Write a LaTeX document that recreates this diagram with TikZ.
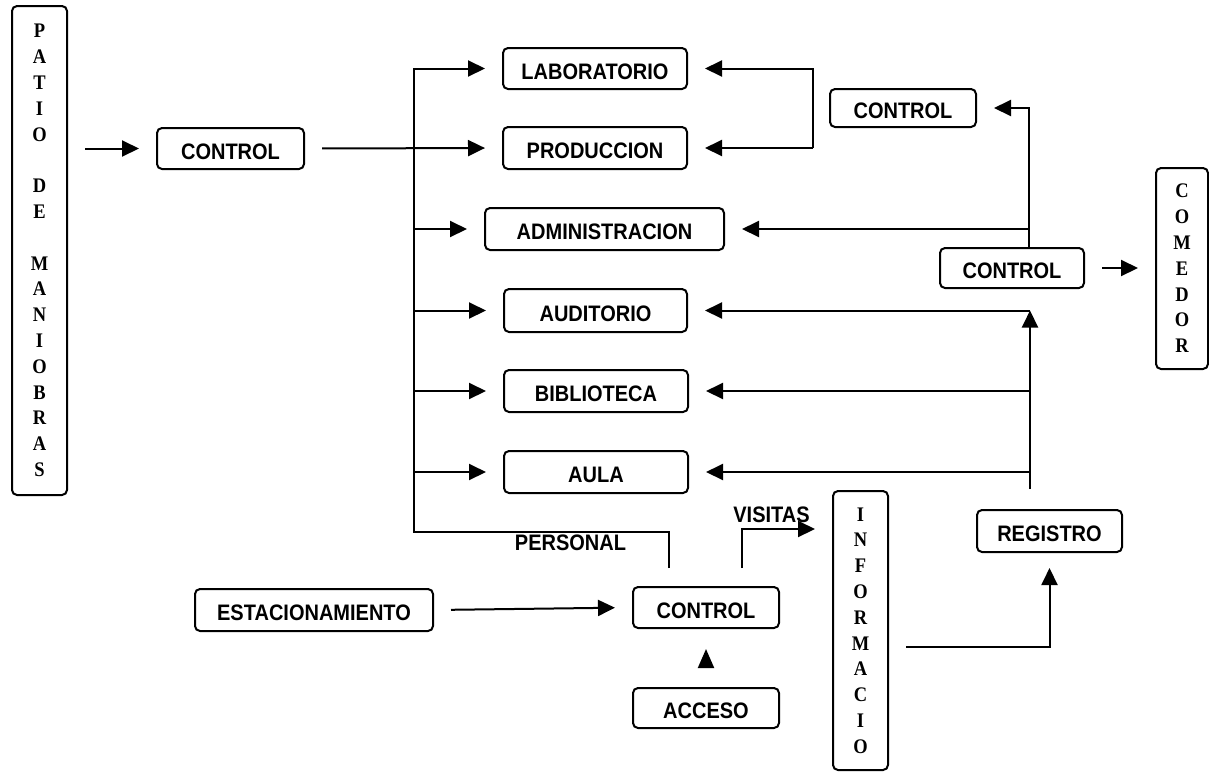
\documentclass[tikz,border=0pt]{standalone}
\usepackage{fontspec}
\usepackage{graphicx}
\setmainfont{Liberation Serif}
\setsansfont{Liberation Sans}
\usetikzlibrary{arrows.meta,calc}
% lettering is slightly taller than the regular face
\newcommand\tallt[1]{\scalebox{1}[1.12]{#1}}
\begin{document}
\begin{tikzpicture}[x=1pt,y=-1pt,
  box/.style={draw, line width=2pt, rounded corners=5pt, inner sep=0pt, text height=22pt,
    font=\sffamily\bfseries\fontsize{20}{23}\selectfont},
  vbox/.style={draw, line width=2pt, rounded corners=5pt, inner sep=0pt, align=center,
    font=\rmfamily\bfseries\fontsize{18.5}{25.8}\selectfont},
  lbl/.style={inner sep=0pt, font=\sffamily\bfseries\fontsize{20}{23}\selectfont},
  link/.style={line width=2pt},
  arr/.style={link, -{Triangle[length=17pt,width=16pt]}},
  gapin/.style={shorten <=17pt},
  gapout/.style={shorten >=17pt}]

\useasboundingbox (0,0) rectangle (1209,772);

% vertical boxes
\node[vbox, minimum width=55pt, minimum height=489pt] (patio) at (39.5,250.5)
  {\tallt{P}\\\tallt{A}\\\tallt{T}\\\tallt{I}\\\tallt{O}\\[25.8pt]\tallt{D}\\\tallt{E}\\[25.8pt]%
   \tallt{M}\\\tallt{A}\\\tallt{N}\\\tallt{I}\\\tallt{O}\\\tallt{B}\\\tallt{R}\\\tallt{A}\\\tallt{S}};
\node[vbox, minimum width=52pt, minimum height=201pt] (comedor) at (1182,268.5)
  {\tallt{C}\\\tallt{O}\\\tallt{M}\\\tallt{E}\\\tallt{D}\\\tallt{O}\\\tallt{R}};
\node[vbox, minimum width=55pt, minimum height=279pt] (info) at (860.5,630.5)
  {\tallt{I}\\\tallt{N}\\\tallt{F}\\\tallt{O}\\\tallt{R}\\\tallt{M}\\\tallt{A}\\\tallt{C}\\\tallt{I}\\\tallt{O}};

% areas
\node[box, minimum width=147pt, minimum height=41pt] (ctlA) at (230.5,148.5) {\tallt{CONTROL}};
\node[box, minimum width=184pt, minimum height=41pt] (lab) at (595,68.5) {\tallt{LABORATORIO}};
\node[box, minimum width=184pt, minimum height=42pt] (prod) at (595,148) {\tallt{PRODUCCION}};
\node[box, minimum width=239pt, minimum height=42pt] (admin) at (604.5,229) {\tallt{ADMINISTRACION}};
\node[box, minimum width=183pt, minimum height=43pt] (aud) at (595.5,310.5) {\tallt{AUDITORIO}};
\node[box, minimum width=184pt, minimum height=42pt] (bib) at (596,391) {\tallt{BIBLIOTECA}};
\node[box, minimum width=184pt, minimum height=42pt] (aula) at (596,472) {\tallt{AULA}};
\node[box, minimum width=146pt, minimum height=38pt] (ctlB) at (903,108) {\tallt{CONTROL}};
\node[box, minimum width=144pt, minimum height=40pt] (ctlC) at (1012,268) {\tallt{CONTROL}};
\node[box, minimum width=238pt, minimum height=42pt] (estac) at (314,610) {\tallt{ESTACIONAMIENTO}};
\node[box, minimum width=146pt, minimum height=41pt] (ctlD) at (706,607.5) {\tallt{CONTROL}};
\node[box, minimum width=146pt, minimum height=40pt] (acceso) at (706,708) {\tallt{ACCESO}};
\node[box, minimum width=145pt, minimum height=42pt] (registro) at (1049.5,531) {\tallt{REGISTRO}};

% labels
\node[lbl] (visitas) at (771.5,515) {\tallt{VISITAS}};
\node[lbl] (personal) at (570.5,543) {\tallt{PERSONAL}};

% entrance from the yard
\draw[arr,gapin,gapout] (patio.east |- ctlA.west) -- (ctlA.west);
\draw[arr,gapin,gapout] (ctlA.east) -- (prod.west);

% staff bus on the left
\coordinate (pB) at (669,532);
\coordinate (busB) at (414,532);
\draw[arr,shorten <=18pt,gapout] (ctlD.north -| pB) -- (pB) -- (busB) |- (lab.west);
\foreach \n in {admin,aud,bib,aula}
  \draw[arr,gapout] (busB |- \n.west) -- (\n.west);

% laboratory / production bracket
\coordinate (brk) at (813,0);
\draw[arr,gapout] (brk |- prod.east) -- (brk |- lab.east) -- (lab.east);
\draw[arr,gapout] (brk |- prod.east) -- (prod.east);

% dining control
\coordinate (rb) at (1029,0);
\draw[arr,gapout] (rb |- ctlC.north) -- (rb |- ctlB.east) -- (ctlB.east);
\draw[arr,gapout] (rb |- admin.east) -- (admin.east);
\draw[arr,gapin,gapout] (ctlC.east) -- (comedor.west |- ctlC.east);

% visitors bus on the right
\coordinate (lb) at (1030,0);
\draw[arr,shorten <=20pt] (lb |- registro.north) -- (lb |- aud.east);
\foreach \n in {aud,bib,aula}
  \draw[arr,gapout] (lb |- \n.east) -- (\n.east);

% access and parking
\draw[arr,gapin,gapout] (estac.east) -- (ctlD.west);
\draw[link,-{Triangle[length=19pt,width=16pt]},shorten <=21pt,shorten >=20pt] (acceso.north) -- (ctlD.south);

% visitors to information and registry
\coordinate (vB) at (742,529);
\draw[arr,shorten <=18pt,gapout] (ctlD.north -| vB) -- (vB) -- (info.west |- vB);
\coordinate (iO) at (0,647);
\draw[arr,gapin,shorten >=15pt] (info.east |- iO) -| (registro.south);

\end{tikzpicture}
\end{document}
